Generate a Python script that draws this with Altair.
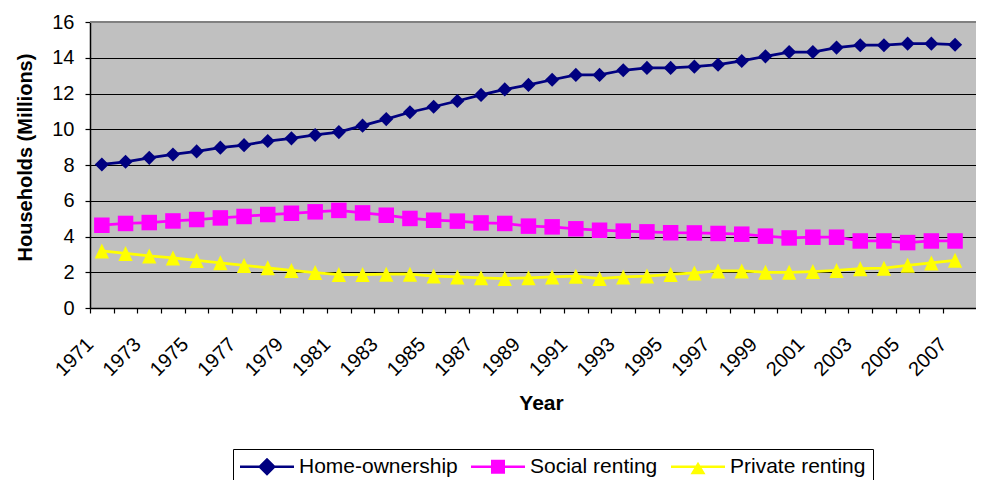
import altair as alt
import pandas as pd

# ---- data ----
years = list(range(1971, 2008))
home_ownership = [8.03, 8.18, 8.40, 8.59, 8.76, 8.97, 9.11, 9.34, 9.49, 9.68, 9.84, 10.20,
                  10.57, 10.95, 11.26, 11.58, 11.92, 12.23, 12.48, 12.77, 13.04, 13.04, 13.30,
                  13.43, 13.43, 13.50, 13.61, 13.82, 14.08, 14.32, 14.32, 14.57, 14.70, 14.70,
                  14.79, 14.79, 14.73]
social_renting = [4.63, 4.73, 4.78, 4.87, 4.95, 5.04, 5.12, 5.23, 5.30, 5.38, 5.46, 5.32,
                  5.19, 5.01, 4.91, 4.86, 4.76, 4.73, 4.58, 4.54, 4.43, 4.35, 4.30, 4.26,
                  4.21, 4.20, 4.17, 4.13, 4.02, 3.92, 3.96, 3.96, 3.75, 3.75, 3.66, 3.75, 3.75]
private_renting = [3.19, 3.05, 2.91, 2.80, 2.66, 2.53, 2.38, 2.25, 2.10, 1.98, 1.87, 1.87,
                   1.89, 1.89, 1.79, 1.74, 1.69, 1.65, 1.69, 1.74, 1.78, 1.65, 1.74, 1.79,
                   1.88, 1.96, 2.07, 2.07, 2.00, 2.00, 2.04, 2.10, 2.20, 2.23, 2.39, 2.52, 2.67]
series_names = ["Home-ownership", "Social renting", "Private renting"]
series_colors = ["#000080", "#FF00FF", "#FFFF00"]
y_ticks = [0, 2, 4, 6, 8, 10, 12, 14, 16]
x_tick_years = years + [2008]

rows = []
for name, vals in zip(series_names, [home_ownership, social_renting, private_renting]):
    for yr, v in zip(years, vals):
        rows.append({"Year": yr, "Series": name, "Value": v})
df = pd.DataFrame(rows)

# ---- layout ----
FONT = "Liberation Sans"
PLOT_W = 886
PLOT_H = 286
STEP = 23.7
TICK = 5
x_domain = [1970.5, 1970.5 + PLOT_W / STEP]
y_domain = [0, 16]

x_scale = alt.Scale(domain=x_domain, nice=False, zero=False)
y_scale = alt.Scale(domain=y_domain, nice=False, zero=True)
color_scale = alt.Scale(domain=series_names, range=series_colors)

# x ticks sit on the category boundaries (tickOffset = half a category)
x_axis = alt.Axis(
    values=x_tick_years, format="d",
    labelExpr="(datum.value % 2 == 1 && datum.value < 2008) ? datum.label : ''",
    tickOffset=-STEP / 2, labelOffset=0,
    labelAngle=315, labelAlign="right", labelBaseline="middle",
    labelFont=FONT, labelFontSize=20, labelColor="black",
    labelPadding=28, ticks=True, tickSize=TICK, tickColor="black", tickWidth=1.2,
    labelOverlap=False, labelFlush=False, labelBound=False,
    domainColor="black", domainWidth=1.5, grid=False,
    title="Year", titleX=451, titleY=95, titleAlign="center", titleBaseline="middle",
    titleFont=FONT, titleFontSize=21, titleFontWeight="bold", titleColor="black",
)
y_axis = alt.Axis(
    values=y_ticks, format="d",
    labelFont=FONT, labelFontSize=20, labelColor="black", labelPadding=11,
    ticks=True, tickSize=TICK, tickColor="black", tickWidth=1.2,
    domainColor="black", domainWidth=1.5,
    grid=True, gridColor="black", gridWidth=1, gridOpacity=1,
    title="Households (Millions)", titleX=-65, titleY=135, titleAngle=270,
    titleAlign="center", titleBaseline="middle",
    titleFont=FONT, titleFontSize=20, titleFontWeight="bold", titleColor="black",
)

base = alt.Chart(df).encode(
    x=alt.X("Year:Q", scale=x_scale, axis=x_axis),
    y=alt.Y("Value:Q", scale=y_scale, axis=y_axis),
)

# top border of the plot area (gray), drawn through the scales
border = alt.Chart(pd.DataFrame({"k": [0]})).mark_rule(color="#808080", strokeWidth=2).encode(
    x=alt.X(datum=x_domain[0], type="quantitative", scale=x_scale, axis=x_axis),
    x2=alt.X2(datum=x_domain[1]),
    y=alt.Y(datum=y_domain[1], type="quantitative", scale=y_scale, axis=y_axis),
)

marker_shapes = ["diamond", "square", "M0,-1.05L1,1.05L-1,1.05Z"]
marker_sizes = [200, 240, 204]
line_layers = []
point_layers = []
for name, col, shp, sz in zip(series_names, series_colors, marker_shapes, marker_sizes):
    sub = base.transform_filter(alt.datum.Series == name)
    line_layers.append(sub.mark_line(color=col, strokeWidth=2.75))
    point_layers.append(
        sub.mark_point(filled=True, shape=shp, size=sz, color=col, opacity=1, strokeWidth=0)
    )

# legend symbols: line + marker (paths in units of 10 px)
LINE = "M-2.7,-0.12H2.7V0.12H-2.7Z"
legend_paths = [
    LINE + " M0,-0.9L0.9,0L0,0.9L-0.9,0Z",
    LINE + " M-0.7,-0.7H0.7V0.7H-0.7Z",
    LINE + " M0,-0.5L0.75,0.75L-0.75,0.75Z",
]
legend_def = alt.Legend(
    orient="none", legendX=143, legendY=427, direction="horizontal", title=None,
    strokeColor="black", fillColor="white", padding=7,
    symbolSize=400, symbolStrokeWidth=0, symbolOpacity=1, symbolOffset=16.5,
    labelFont=FONT, labelFontSize=21, labelColor="black", labelOffset=21.5,
    labelLimit=400, columnPadding=13,
)
legend_layer = base.mark_point(filled=True, opacity=0).encode(
    color=alt.Color("Series:N", scale=color_scale, legend=legend_def),
    shape=alt.Shape("Series:N", scale=alt.Scale(domain=series_names, range=legend_paths),
                    legend=legend_def),
)

chart = alt.layer(border, *line_layers, *point_layers, legend_layer).properties(
    width=PLOT_W, height=PLOT_H,
    autosize=alt.AutoSizeParams(type="none"),
    padding={"left": 82, "top": 14, "right": 0, "bottom": 172},
    background="white",
).configure(font=FONT).configure_view(
    fill="#C0C0C0", stroke=None,
)

chart.save("out.html", embed_options={"renderer": "svg", "actions": False})
